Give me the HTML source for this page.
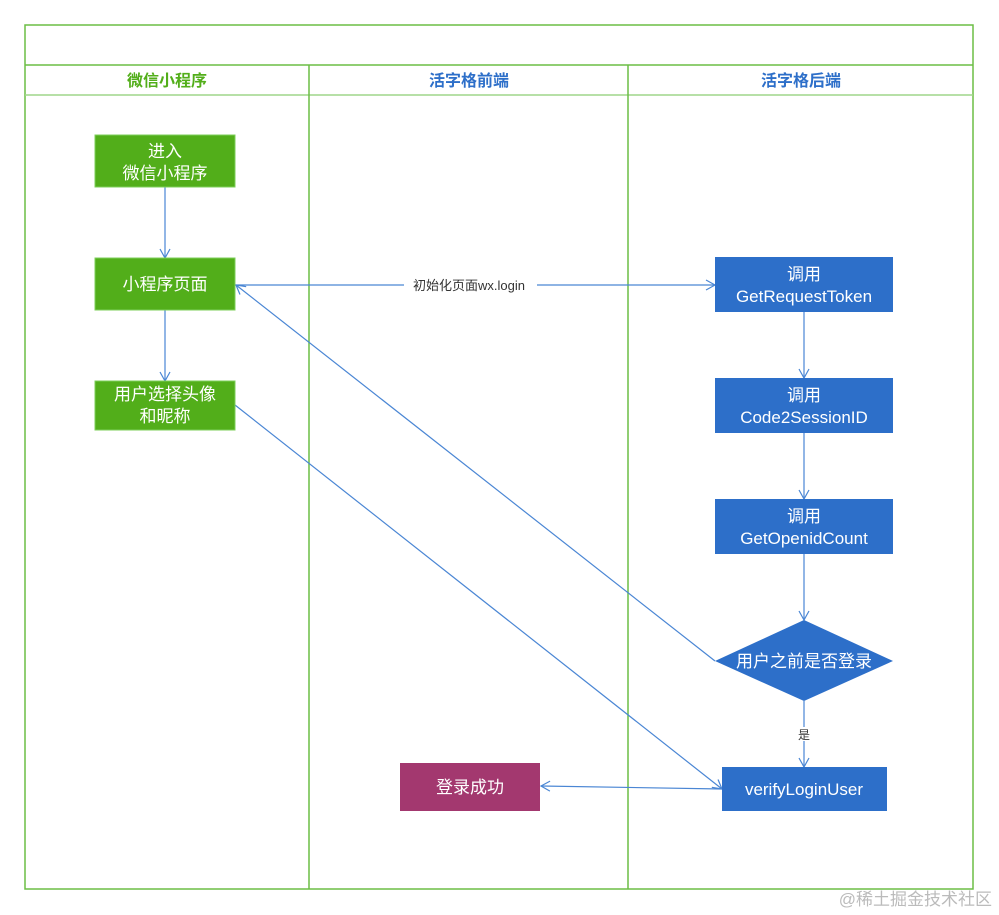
<!DOCTYPE html>
<html><head><meta charset="utf-8"><style>body{margin:0;background:#fff}svg{display:block}text{font-family:"Liberation Sans","Noto Sans CJK SC",sans-serif}</style></head><body>
<svg width="999" height="915" viewBox="0 0 999 915" xmlns="http://www.w3.org/2000/svg">
<defs><marker id="a" markerWidth="12" markerHeight="12" refX="10" refY="6" orient="auto" markerUnits="userSpaceOnUse"><path d="M1,1 L10,6 L1,11" fill="none" stroke="#4a86d4" stroke-width="1.2"/></marker></defs>
<rect x="25" y="25" width="948" height="864" fill="#fff" stroke="#6cbd45" stroke-width="1.5"/>
<line x1="25" y1="65" x2="973" y2="65" stroke="#6cbd45" stroke-width="1.5"/>
<line x1="25" y1="95" x2="973" y2="95" stroke="#9fd58a" stroke-width="1.5"/>
<line x1="309" y1="65" x2="309" y2="889" stroke="#6cbd45" stroke-width="1.5"/>
<line x1="628" y1="65" x2="628" y2="889" stroke="#6cbd45" stroke-width="1.5"/>
<g font-size="16" font-weight="bold" text-anchor="middle">
<text x="167" y="86" fill="#52ae1a">微信小程序</text>
<text x="469" y="86" fill="#2d6fc9">活字格前端</text>
<text x="801" y="86" fill="#2d6fc9">活字格后端</text>
</g>
<g fill="none" stroke="#4a86d4" stroke-width="1.2" marker-end="url(#a)">
<line x1="165" y1="187" x2="165" y2="258"/>
<line x1="165" y1="310" x2="165" y2="381"/>
<line x1="235" y1="285" x2="715" y2="285"/>
<line x1="715" y1="661" x2="236" y2="285"/>
<line x1="235" y1="405" x2="722" y2="789"/>
<line x1="722" y1="789" x2="541" y2="786"/>
<line x1="804" y1="312" x2="804" y2="378"/>
<line x1="804" y1="433" x2="804" y2="499"/>
<line x1="804" y1="554" x2="804" y2="620"/>
<line x1="804" y1="701" x2="804" y2="767"/>
</g>
<rect x="404" y="277" width="133" height="16" fill="#fff"/>
<text x="469" y="290" font-size="13" text-anchor="middle" fill="#333">初始化页面wx.login</text>
<rect x="797" y="727" width="14" height="14" fill="#fff"/>
<text x="804" y="739" font-size="12" text-anchor="middle" fill="#333">是</text>
<g fill="#52ae1a" stroke="#7ccf5a" stroke-width="1">
<rect x="95" y="135" width="140" height="52"/>
<rect x="95" y="258" width="140" height="52"/>
<rect x="95" y="381" width="140" height="49"/>
</g>
<g fill="#2d6fc9">
<rect x="715" y="257" width="178" height="55"/>
<rect x="715" y="378" width="178" height="55"/>
<rect x="715" y="499" width="178" height="55"/>
<polygon points="804,620 893,661 804,701 715,661"/>
<rect x="722" y="767" width="165" height="44"/>
</g>
<rect x="400" y="763" width="140" height="48" fill="#a3386f"/>
<g fill="#fff" font-size="17" text-anchor="middle">
<text x="165" y="157">进入</text><text x="165" y="179">微信小程序</text>
<text x="165" y="290">小程序页面</text>
<text x="165" y="400">用户选择头像</text><text x="165" y="422">和昵称</text>
<text x="804" y="280">调用</text><text x="804" y="302">GetRequestToken</text>
<text x="804" y="401">调用</text><text x="804" y="423">Code2SessionID</text>
<text x="804" y="522">调用</text><text x="804" y="544">GetOpenidCount</text>
<text x="804" y="667">用户之前是否登录</text>
<text x="804" y="795">verifyLoginUser</text>
<text x="470" y="793">登录成功</text>
</g>
<text x="992" y="905" font-size="17" text-anchor="end" fill="#bbb" font-family="Liberation Serif,Noto Serif CJK SC,serif">@稀土掘金技术社区</text>
</svg>
</body></html>
